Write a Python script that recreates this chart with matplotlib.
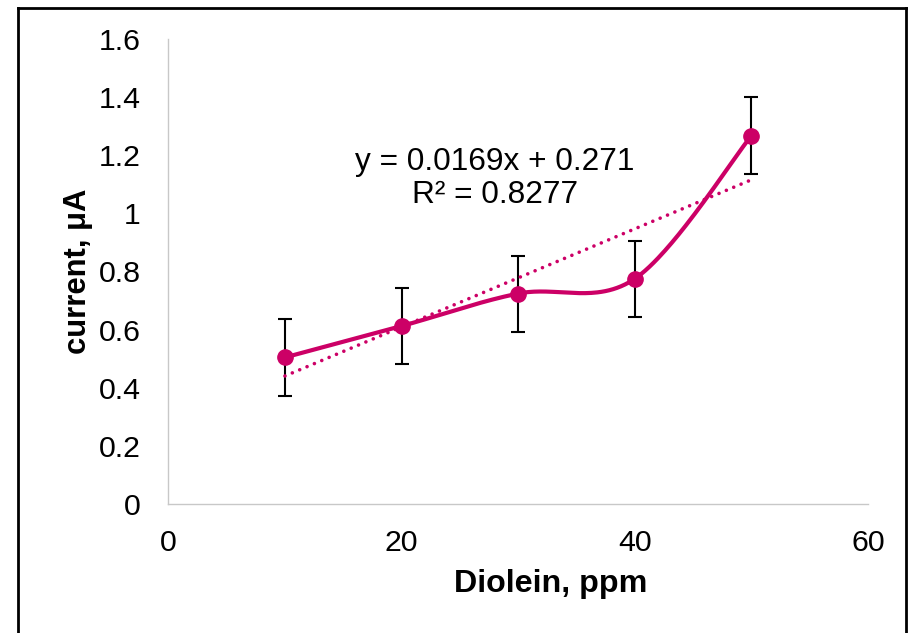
import numpy as np
import matplotlib
matplotlib.use("Agg")
import matplotlib.pyplot as plt
from matplotlib.lines import Line2D

plt.rcParams['font.family'] = ['Liberation Sans', 'DejaVu Sans']

# data
diolein = [10, 20, 30, 40, 50]
current = [0.504, 0.612, 0.724, 0.775, 1.268]
errors = [0.132, 0.131, 0.131, 0.131, 0.132]
slope, intercept = 0.0169, 0.271
eq_text = "y = 0.0169x + 0.271\nR² = 0.8277"

x_ticks = [0, 20, 40, 60]
y_ticks = [0, 0.2, 0.4, 0.6, 0.8, 1, 1.2, 1.4, 1.6]
y_tick_labels = ["0", "0.2", "0.4", "0.6", "0.8", "1", "1.2", "1.4", "1.6"]

pink = "#CC0066"


def excel_smooth(xs, ys, n=60):
    # catmull-rom style bezier, like Excel's smoothed line
    p = np.column_stack([xs, ys]).astype(float)
    pts = np.vstack([p[0], p, p[-1]])
    out = []
    for i in range(1, len(pts) - 2):
        p0, p1, p2, p3 = pts[i - 1], pts[i], pts[i + 1], pts[i + 2]
        c1 = p1 + (p2 - p0) / 6
        c2 = p2 - (p3 - p1) / 6
        t = np.linspace(0, 1, n)[:, None]
        seg = ((1 - t) ** 3 * p1 + 3 * (1 - t) ** 2 * t * c1
               + 3 * (1 - t) * t ** 2 * c2 + t ** 3 * p2)
        out.append(seg)
    out = np.vstack(out)
    return out[:, 0], out[:, 1]


fig = plt.figure(figsize=(9.08, 6.33), dpi=100)
ax = fig.add_axes([0.1854, 0.2043, 0.956 - 0.1854, 0.9379 - 0.2043])

sx, sy = excel_smooth(diolein, current)
ax.plot(sx, sy, color=pink, lw=3, solid_capstyle='round', zorder=2)

ax.errorbar(diolein, current, yerr=errors, fmt='none', ecolor='black',
            elinewidth=1.5, capsize=5, capthick=1.5, zorder=1)
ax.plot(diolein, current, 'o', color=pink, ms=11, zorder=4)

tx = np.array([diolein[0], diolein[-1]])
ax.plot(tx, slope * tx + intercept, color=pink, lw=2.6,
        linestyle=(0, (0.01, 2.2)), dash_capstyle='round', zorder=3)

ax.text(28.0, 1.12, eq_text, ha='center', va='center', fontsize=22.8,
        linespacing=1.1)

ax.set_xlim(0, 60)
ax.set_ylim(0, 1.6)
ax.set_xticks(x_ticks)
ax.set_yticks(y_ticks)
ax.set_yticklabels(y_tick_labels)
ax.tick_params(length=0, labelsize=21.8)
ax.tick_params(axis='y', pad=20)
ax.tick_params(axis='x', pad=18)

for s in ['top', 'right']:
    ax.spines[s].set_visible(False)
for s in ['left', 'bottom']:
    ax.spines[s].set_color('#c8c8c8')
    ax.spines[s].set_linewidth(1)

ax.set_xlabel("Diolein, ppm", fontsize=23.2, fontweight='bold')
ax.xaxis.set_label_coords(0.547, -0.174)
ax.xaxis.label.set_va('center')
ax.set_ylabel("current, μA", fontsize=22.3, fontweight='bold', labelpad=4)

# outer frame (bottom edge is cut off in the original)
W, H = 908, 633
fx = lambda px: px / W
fy = lambda py: 1 - py / H
for xs_, ys_ in [([18, 908], [8, 8]), ([18, 18], [8, 633]), ([906, 906], [8, 633])]:
    fig.add_artist(Line2D([fx(v) for v in xs_], [fy(v) for v in ys_],
                          color='black', lw=2, transform=fig.transFigure))

fig.savefig("out.png", dpi=100)
